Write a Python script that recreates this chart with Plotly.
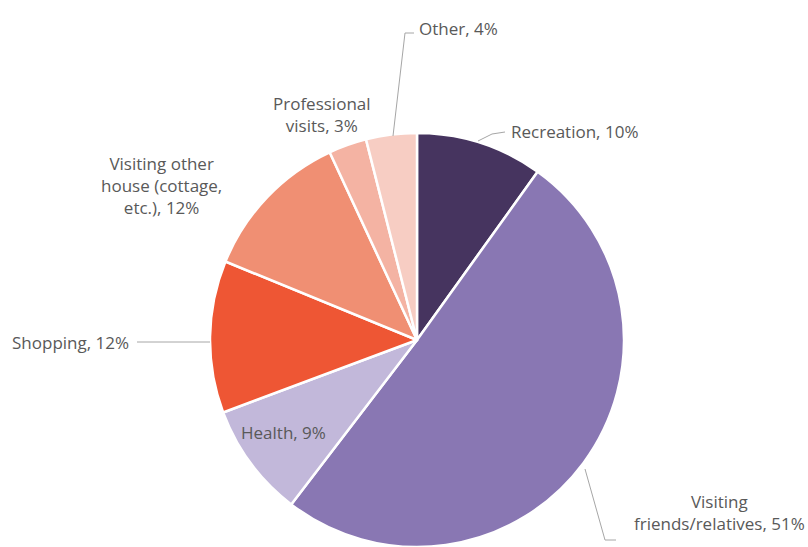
import plotly.graph_objects as go

# ---- data ----
categories = ["Recreation", "Visiting friends/relatives", "Health", "Shopping",
              "Visiting other house (cottage, etc.)", "Professional visits", "Other"]
values = [10, 51, 9, 12, 12, 3, 4]
label_texts = ["Recreation, 10%", "Visiting<br>friends/relatives, 51%", "Health, 9%",
               "Shopping, 12%", "Visiting other<br>house (cottage,<br>etc.), 12%",
               "Professional<br>visits, 3%", "Other, 4%"]
colors = ["#46345F", "#8977B3", "#C2B8DA", "#EE5634", "#F08F73", "#F4B3A3", "#F7CDC3"]

W, H = 808, 547

# ---- label layout (pixel positions) ----
label_pos = [
    (509, 132, "left"),
    (719, 512, "center"),
    (283, 432, "center"),
    (10, 342, "left"),
    (161, 185, "center"),
    (322, 115, "center"),
    (417, 28, "left"),
]
leader_lines = [
    [(478, 141), (492, 134), (505, 132)],
    [(585, 469), (605, 540), (616, 540)],
    None,
    [(137, 342), (210, 342)],
    None,
    None,
    [(393, 136), (405, 33), (414, 33)],
]

def px(x):
    return x / W

def py(y):
    return 1 - y / H

fig = go.Figure(go.Pie(
    labels=categories,
    values=values,
    sort=False,
    direction="clockwise",
    rotation=0,
    textinfo="none",
    hoverinfo="label+percent",
    marker=dict(colors=colors, line=dict(color="white", width=2.5)),
    domain=dict(x=[px(210), px(624)], y=[0, py(133)]),
    showlegend=False,
))

for (x, y, anchor), txt in zip(label_pos, label_texts):
    fig.add_annotation(x=px(x), y=py(y), xref="paper", yref="paper",
                       text=txt, showarrow=False, xanchor=anchor, yanchor="middle",
                       align="center",
                       font=dict(family="Open Sans", size=17, color="#595959"))

for pts in leader_lines:
    if pts is None:
        continue
    path = "M " + " L ".join(f"{px(a)},{py(b)}" for a, b in pts)
    fig.add_shape(type="path", path=path, xref="paper", yref="paper",
                  line=dict(color="#A6A6A6", width=1))

fig.update_layout(width=W, height=H, margin=dict(l=0, r=0, t=0, b=0),
                  paper_bgcolor="white", plot_bgcolor="white")

fig.write_html("out.html")
